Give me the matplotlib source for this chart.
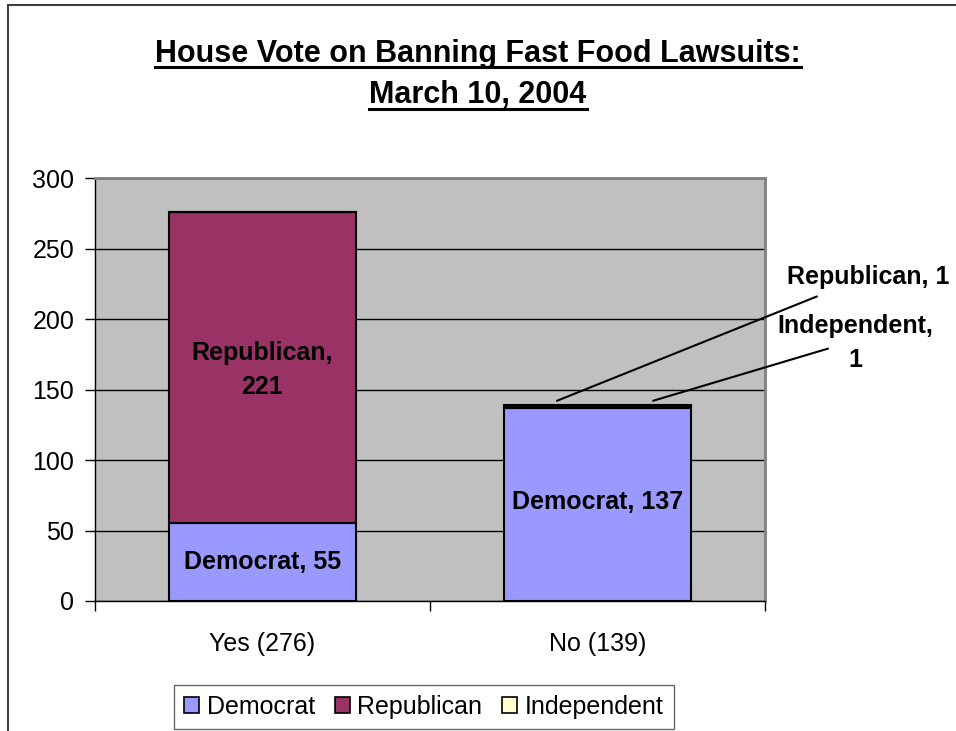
import matplotlib.pyplot as plt
from matplotlib.patches import Rectangle, Patch
from matplotlib.lines import Line2D

plt.rcParams['font.family'] = ['Liberation Sans', 'DejaVu Sans']

categories = ["Yes (276)", "No (139)"]
democrat = [55, 137]
republican = [221, 1]
independent = [0, 1]

colors = {"Democrat": "#9999FF", "Republican": "#993366", "Independent": "#FFFFCC"}

fig = plt.figure(figsize=(9.56, 7.31), dpi=100)
ax = fig.add_axes([95/956, 130/731, 670/956, 423/731])

x = list(range(len(categories)))
w = 0.56
ax.bar(x, democrat, w, color=colors["Democrat"], edgecolor="black", linewidth=1.5, zorder=3)
ax.bar(x, republican, w, bottom=democrat, color=colors["Republican"],
       edgecolor="black", linewidth=1.5, zorder=3)
base2 = [d + r for d, r in zip(democrat, republican)]
ax.bar(x, independent, w, bottom=base2, color=colors["Independent"],
       edgecolor="black", linewidth=1.5, zorder=3)

ax.set_xlim(-0.5, 1.5)
ax.set_ylim(0, 300)
ax.set_facecolor("#C0C0C0")
ax.set_yticks(range(0, 301, 50))
ax.yaxis.grid(True, color="black", linewidth=1)
ax.set_axisbelow(True)
ax.set_xticks(x)
ax.set_xticklabels(categories)
ax.set_xticks([-0.5, 0.5, 1.5], minor=True)
ax.tick_params(axis="x", which="major", length=0, pad=22, labelsize=18)
ax.tick_params(axis="x", which="minor", length=7, width=1)
ax.tick_params(axis="y", length=7, width=1, labelsize=18, pad=8)
for s in ["top", "right"]:
    ax.spines[s].set_color("#808080")
    ax.spines[s].set_linewidth(2)
for s in ["left", "bottom"]:
    ax.spines[s].set_color("black")
    ax.spines[s].set_linewidth(1)

lab = dict(ha="center", va="center", fontsize=18, fontweight="bold", zorder=5)
ax.text(0, 164, "Republican,\n221", linespacing=1.5, **lab)
ax.text(0, 28, "Democrat, 55", **lab)
ax.text(1, 70, "Democrat, 137", **lab)
ax.text(1.807, 230, "Republican, 1", clip_on=False, **lab)
ax.text(1.769, 183, "Independent,\n1", linespacing=1.5, clip_on=False, **lab)
ax.annotate("", xy=(0.879, 142), xytext=(1.655, 216),
            arrowprops=dict(arrowstyle="-", color="black", lw=1.5, shrinkA=0, shrinkB=0),
            annotation_clip=False)
ax.annotate("", xy=(1.166, 142), xytext=(1.688, 179),
            arrowprops=dict(arrowstyle="-", color="black", lw=1.5, shrinkA=0, shrinkB=0),
            annotation_clip=False)

# title with underline
t1 = fig.text(0.5, 1 - 62/731, "House Vote on Banning Fast Food Lawsuits:",
              ha="center", va="baseline", fontsize=22, fontweight="bold")
t2 = fig.text(0.5, 1 - 103/731, "March 10, 2004",
              ha="center", va="baseline", fontsize=22, fontweight="bold")
fig.canvas.draw()
r = fig.canvas.get_renderer()
for t, uy in ((t1, 67), (t2, 109)):
    bb = t.get_window_extent(r).transformed(fig.transFigure.inverted())
    y = 1 - uy/731
    fig.add_artist(Line2D([bb.x0, bb.x1], [y, y], color="black", lw=2.2,
                          transform=fig.transFigure))

handles = [Patch(facecolor=colors[k], edgecolor="black", linewidth=1.2, label=k)
           for k in ["Democrat", "Republican", "Independent"]]
leg = fig.legend(handles=handles, loc="lower center", bbox_to_anchor=(424/956, 2/731),
                 ncol=3, fontsize=18, frameon=True, fancybox=False, borderaxespad=0,
                 handlelength=0.6, handleheight=0.6, handletextpad=0.3,
                 columnspacing=0.8, borderpad=0.4, edgecolor="#404040")
leg.get_frame().set_linewidth(1)

fig.add_artist(Rectangle((8/956, -0.1), 1.2, 1.1 - 5/731, transform=fig.transFigure,
                         fill=False, edgecolor="#404040", linewidth=1.5))

fig.savefig("out.png", dpi=100)
